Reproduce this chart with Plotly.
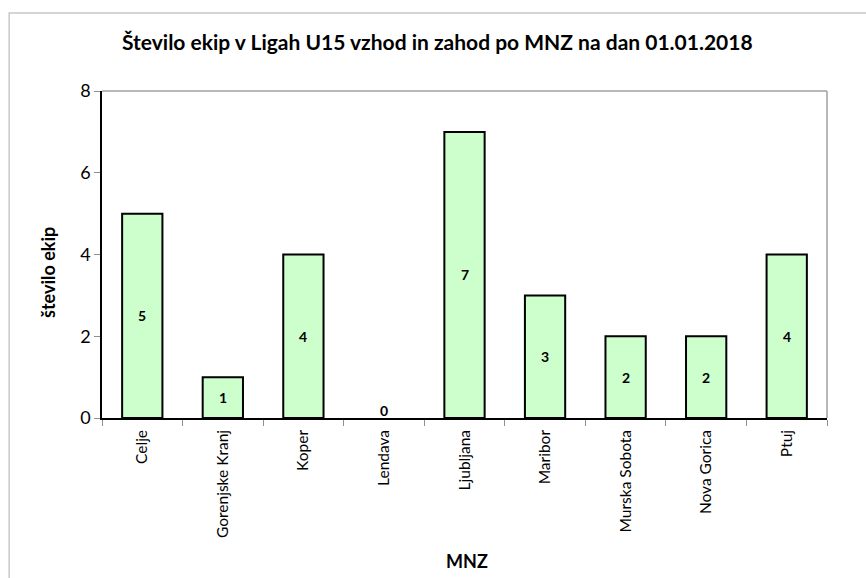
import plotly.graph_objects as go

categories = ["Celje", "Gorenjske Kranj", "Koper", "Lendava", "Ljubljana",
              "Maribor", "Murska Sobota", "Nova Gorica", "Ptuj"]
values = [5, 1, 4, 0, 7, 3, 2, 2, 4]
y_ticks = [0, 2, 4, 6, 8]

title = "Število ekip v Ligah U15 vzhod in zahod po MNZ na dan 01.01.2018"
x_title = "MNZ"
y_title = "število ekip"

FONT = "Lato"

fig = go.Figure()
fig.add_trace(go.Bar(
    x=categories, y=values,
    marker=dict(color="#CCFFCC",
                line=dict(color="black", width=[2 if v > 0 else 0 for v in values])),
    width=0.5, hoverinfo="x+y",
))

for c, v in zip(categories, values):
    fig.add_annotation(
        x=c, y=v / 2, text=f"<b>{v}</b>", showarrow=False,
        yanchor="middle" if v > 0 else "bottom", yshift=0 if v > 0 else -3,
        font=dict(family=FONT, size=14, color="black"),
    )

# axis titles
fig.add_annotation(xref="paper", yref="paper", x=0.503, y=-0.437, text=f"<b>{x_title}</b>",
                   showarrow=False, xanchor="center", yanchor="middle",
                   font=dict(family=FONT, size=18, color="black"))
fig.add_annotation(xref="paper", yref="paper", x=-0.0745, y=0.4465, text=f"<b>{y_title}</b>",
                   showarrow=False, xanchor="center", yanchor="middle", textangle=-90,
                   font=dict(family=FONT, size=18, color="black"))

# gray top/right border of plot area
fig.add_shape(type="line", xref="paper", yref="paper", x0=0, x1=1, y0=1, y1=1,
              line=dict(color="#A0A0A0", width=1.5))
fig.add_shape(type="line", xref="paper", yref="paper", x0=1, x1=1, y0=0, y1=1,
              line=dict(color="#A0A0A0", width=1.5))
# outer chart border
fig.add_shape(type="rect", xref="paper", yref="paper",
              x0=-0.128, x1=1.2, y0=-0.6, y1=1.2385,
              line=dict(color="#C8C8C8", width=1.5), layer="below")

fig.update_layout(
    width=866, height=578,
    margin=dict(l=102, r=39, t=91, b=160),
    paper_bgcolor="white", plot_bgcolor="white",
    showlegend=False,
    title=dict(text=f"<b>{title}</b>", x=0.505, xanchor="center", y=0.927, yanchor="middle",
               font=dict(family=FONT, size=21, color="black")),
    font=dict(family=FONT, color="black"),
    bargap=0.5,
)
fig.update_xaxes(
    type="category", tickson="boundaries", ticks="outside", ticklen=6,
    tickcolor="#909090", tickangle=-90, tickfont=dict(family=FONT, size=15.5, color="black"),
    ticklabelstandoff=4,
    showline=True, linecolor="black", linewidth=1.5, showgrid=False,
    automargin=False,
)
fig.update_yaxes(
    range=[0, 8], tickmode="array", tickvals=y_ticks, ticks="outside", ticklen=6,
    tickcolor="#909090", tickfont=dict(family=FONT, size=18, color="black"),
    showline=True, linecolor="black", linewidth=1.5, showgrid=False, zeroline=False,
    automargin=False,
)

fig.write_html("out.html", config={"displayModeBar": False},
               post_script="document.body.style.margin='0';document.body.style.padding='0';")
